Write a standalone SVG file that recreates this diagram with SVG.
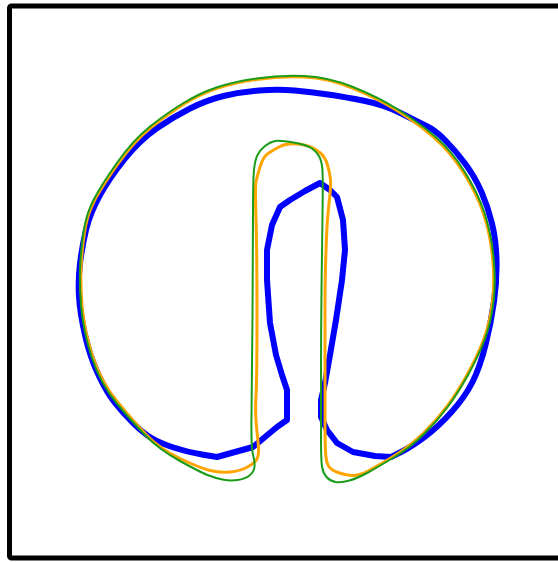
<svg xmlns="http://www.w3.org/2000/svg" width="558" height="562" viewBox="0 0 558 562">
<style>
.frame{fill:none;stroke:#000;stroke-width:5}
.c{fill:none;stroke-linejoin:round;stroke-linecap:round}
.blue{stroke:#0000ff;stroke-width:6}
.orange{stroke:#ffa500;stroke-width:3}
.green{stroke:#1a9c1a;stroke-width:2}
</style>
<rect width="558" height="562" fill="#fff"/>
<rect class="frame" x="9.5" y="6" width="562" height="552" rx="2"/>
<g id="blue">
<path class="c blue" d="M 287,420 L 287,390 L 282,375 L 276,355 L 270,323 L 267,280 L 267,250 L 272,225 L 280,207 L 290,200 L 305,191 L 320,183 L 330,190 L 337,197 L 343,220 L 345,250 L 342,280 L 336,320 L 330,355 L 325,383 L 321,400 L 321,417 L 327,430 L 337,443 L 353,452 L 375,456 L 391,457 L 401,452 Q 411,447 424.5,437 Q 438,427 451.5,412 Q 465,397 472.5,382 Q 480,367 485.5,345 Q 491,323 494,301.5 Q 497,280 496.5,260 Q 496,240 492,223.5 Q 488,207 481.5,192 Q 475,177 465,163.5 Q 455,150 445,140 Q 435,130 426.5,126 Q 418,122 401.5,113.5 Q 385,105 365,101 Q 345,97 328,94.5 Q 311,92 294.5,90.5 Q 278,89 259,90.5 Q 240,92 223.5,96 Q 207,100 190,108.5 Q 173,117 156.5,128.5 Q 140,140 125,158.5 Q 110,177 100,195 Q 90,213 86,230 Q 82,247 80,263.5 Q 78,280 79,296.5 Q 80,313 85,335 Q 90,357 98.5,375 Q 107,393 115,403 Q 123,413 133,423 Q 143,433 151.5,438 Q 160,443 173.5,447.5 Q 187,452 202,454.5 L 217,457 L 253,447 L 277,427 Z"/>
</g>
<g id="orange">
<path class="c orange" d="M 257,315 Q 257,380 256,396.5 Q 255,413 256.5,426.5 Q 258,440 258.5,447.5 Q 259,455 257,459 Q 255,463 247.5,467 Q 240,471 230,472 Q 220,473 210,470.5 Q 200,468 180,458.5 Q 160,449 147,435.5 Q 134,422 117.5,402 Q 101,382 92.5,356 Q 84,330 82,305 Q 80,280 81.5,260 Q 83,240 85.5,226.5 Q 88,213 94.5,200.5 Q 101,188 117.5,164.5 Q 134,141 151,127.5 Q 168,114 184,104 Q 200,94 216.5,88.5 Q 233,83 256.5,79.5 Q 280,76 304,77 Q 328,78 352.5,88 Q 377,98 397,110.5 Q 417,123 433.5,137 Q 450,151 463.5,172.5 Q 477,194 483.5,213.5 Q 490,233 492.5,256.5 Q 495,280 492.5,301.5 Q 490,323 483.5,340 Q 477,357 467,375 Q 457,393 447,406.5 Q 437,420 423.5,433 Q 410,446 394,456 Q 378,466 368,471 Q 358,476 351.5,475.5 Q 345,475 338,472.5 Q 331,470 328.5,466 Q 326,462 325.5,451 Q 325,440 325,426.5 Q 325,413 325,371.5 Q 325,330 325,305 Q 325,280 326,250 Q 327,220 329,203.5 Q 331,187 330.5,180 Q 330,173 327.5,165 Q 325,157 321,153.5 Q 317,150 312,147.5 Q 307,145 297,144 Q 287,143 280,146.5 Q 273,150 268,153.5 Q 263,157 260,167 Q 257,177 256,182 Q 255,187 256,218.5 Q 257,250 257,315 Z"/>
</g>
<g id="green">
<path class="c green" d="M 252.5,315 Q 252,380 251.5,413.5 Q 251,447 253,454.5 Q 255,462 254.5,467 Q 254,472 249.5,475.5 Q 245,479 237.5,480 Q 230,481 222.5,479.5 Q 215,478 207.5,475 Q 200,472 180,461 Q 160,450 146.5,436.5 Q 133,423 116.5,403 Q 100,383 91.5,356.5 Q 83,330 81,305 Q 79,280 80.5,260 Q 82,240 84.5,226.5 Q 87,213 93.5,200 Q 100,187 116.5,163.5 Q 133,140 150,126.5 Q 167,113 183.5,103 Q 200,93 216.5,87.5 Q 233,82 256.5,78.5 Q 280,75 304,76 Q 328,77 353,87 Q 378,97 398,109.5 Q 418,122 434.5,136 Q 451,150 464.5,171.5 Q 478,193 484.5,213 Q 491,233 493.5,256.5 Q 496,280 493.5,301.5 Q 491,323 484.5,340 Q 478,357 468,375 Q 458,393 448,406.5 Q 438,420 424.5,433.5 Q 411,447 394.5,457 Q 378,467 368,472.5 Q 358,478 349.5,480.5 Q 341,483 335.5,482 Q 330,481 326.5,477 Q 323,473 322,466.5 Q 321,460 321,436.5 Q 321,413 321,371.5 Q 321,330 321.5,290 Q 322,250 322.5,215 Q 323,180 322.5,171 Q 322,162 319.5,157 Q 317,152 312,148.5 Q 307,145 293.5,142.5 Q 280,140 275,141 Q 270,142 265,146 Q 260,150 257.5,155 Q 255,160 254,170 Q 253,180 253,215 Q 253,250 252.5,315 Z"/>
</g>
</svg>
